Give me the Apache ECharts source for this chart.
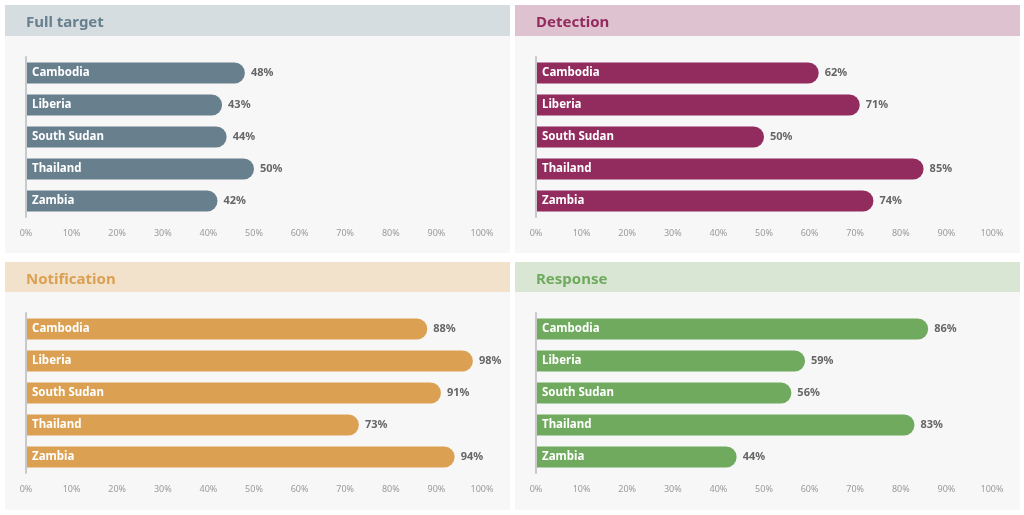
<!DOCTYPE html>
<html>
<head>
<meta charset="utf-8">
<style>
  html, body { margin: 0; padding: 0; background: #ffffff; }
  #chart { width: 1024px; height: 515px; }
</style>
<script src="https://cdn.jsdelivr.net/npm/echarts@6/dist/echarts.min.js"></script>
</head>
<body>
<div id="chart"></div>
<script>
// data
var countries = ['Cambodia', 'Liberia', 'South Sudan', 'Thailand', 'Zambia'];
var fullTarget = [48, 43, 44, 50, 42];
var detection = [62, 71, 50, 85, 74];
var notification = [88, 98, 91, 73, 94];
var response = [86, 59, 56, 83, 44];
var panelTitles = ['Full target', 'Detection', 'Notification', 'Response'];
var xTicks = [0, 100, 10]; // min, max, step

(function () {
    var chart = echarts.init(document.getElementById('chart'));
    var font = '"Noto Sans", sans-serif';

    // one panel per measure: [left, top] of the panel
    var panels = [
        { data: fullTarget,   x: 5,   y: 5,   bar: '#687f8e', head: '#d5dde1' },
        { data: detection,    x: 515, y: 5,   bar: '#922b5e', head: '#dfc2d0' },
        { data: notification, x: 5,   y: 262, bar: '#dba052', head: '#f2e2cc' },
        { data: response,     x: 515, y: 262, bar: '#6faa5e', head: '#d9e6d3' }
    ];
    var panelW = 505;

    var graphics = [], titles = [], grids = [], xAxes = [], yAxes = [], series = [];

    panels.forEach(function (p, i) {
        var bodyH = i < 2 ? 217 : 218;
        var headH = i < 2 ? 31 : 30;
        graphics.push({
            type: 'rect', left: p.x, top: p.y + headH, z: -10,
            shape: { width: panelW, height: bodyH },
            style: { fill: '#f7f7f7' }
        });
        graphics.push({
            type: 'rect', left: p.x, top: p.y, z: -10,
            shape: { width: panelW, height: headH },
            style: { fill: p.head }
        });

        titles.push({
            text: panelTitles[i],
            left: p.x + 21,
            top: p.y + 10,
            padding: 0,
            textStyle: { color: p.bar, fontSize: 15, fontWeight: 'bold', fontFamily: font }
        });

        grids.push({
            left: p.x + 21,
            top: p.y + (i < 2 ? 52 : 51),
            width: 456,
            height: 160
        });

        xAxes.push({
            gridIndex: i,
            type: 'value',
            min: xTicks[0],
            max: xTicks[1],
            interval: xTicks[2],
            axisLine: { show: false },
            axisTick: { show: false },
            splitLine: { show: false },
            axisLabel: {
                formatter: '{value}%',
                color: '#9a9a9a',
                fontSize: 9,
                fontFamily: font,
                margin: 12
            }
        });

        yAxes.push({
            gridIndex: i,
            type: 'category',
            data: countries,
            inverse: true,
            z: 5,
            axisLine: { show: true, lineStyle: { color: '#c9c9c9', width: 2 } },
            axisTick: { show: false },
            axisLabel: {
                inside: true,
                margin: 6,
                color: '#ffffff',
                fontSize: 11.5,
                fontWeight: 'bold',
                fontFamily: font
            }
        });

        series.push({
            name: panelTitles[i],
            type: 'bar',
            xAxisIndex: i,
            yAxisIndex: i,
            data: p.data,
            barWidth: 21,
            itemStyle: { color: p.bar, borderRadius: [0, 11, 11, 0] },
            label: {
                show: true,
                position: 'right',
                distance: 6,
                formatter: '{c}%',
                color: '#666666',
                fontSize: 11,
                fontWeight: 'bold',
                fontFamily: font
            }
        });
    });

    var option = {
        animation: false,
        backgroundColor: '#ffffff',
        graphic: graphics,
        title: titles,
        grid: grids,
        xAxis: xAxes,
        yAxis: yAxes,
        series: series
    };

    chart.setOption(option);
})();
</script>
</body>
</html>
